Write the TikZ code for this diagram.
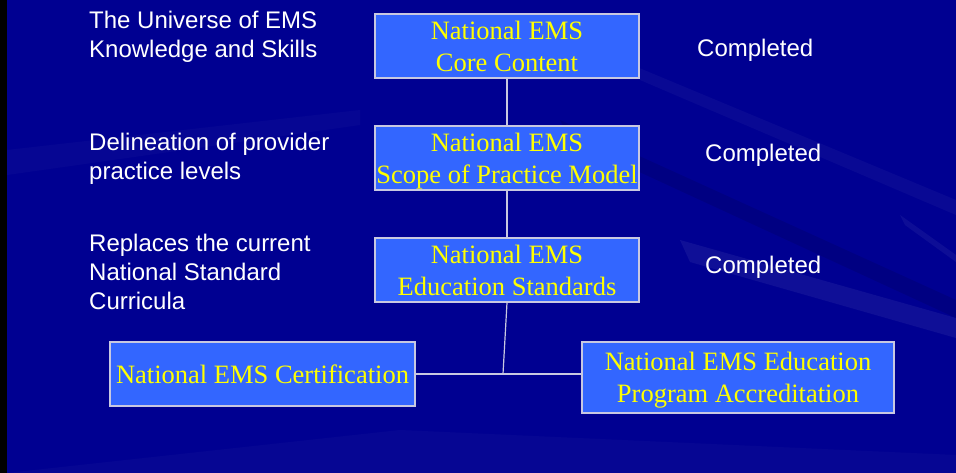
\documentclass[tikz,border=0pt]{standalone}
\usepackage{fontspec}
\setmainfont{Liberation Serif}
\newfontfamily\arial{Liberation Sans}
\usetikzlibrary{calc}

\definecolor{navy}{RGB}{0,0,145}
\definecolor{boxblue}{RGB}{51,102,255}
\definecolor{boxtext}{RGB}{255,255,0}
\definecolor{linegray}{RGB}{200,200,225}

\tikzset{
	box/.style={draw=linegray, line width=1.3pt, fill=boxblue, text=boxtext, align=center,
		inner sep=0pt, text depth=0pt, font=\fontsize{26.5}{32}\selectfont},
	note/.style={text=white, align=left, anchor=west, inner sep=0pt,
		font=\arial\fontsize{24}{29}\selectfont},
	link/.style={draw=linegray, line width=1.2pt}
}

\begin{document}
\begin{tikzpicture}[x=1pt,y=-1pt]
	\useasboundingbox (0,0) rectangle (956,473);
	\fill[navy] (0,0) rectangle (956,473);
	\fill[black] (0,0) rectangle (7,473);
	% light streaks in the background
	\fill[white,opacity=0.06] (680,240) -- (956,318) -- (956,338) -- (690,262) -- cycle;
	\fill[white,opacity=0.035] (620,60) -- (956,200) -- (956,215) -- (640,80) -- cycle;
	\fill[white,opacity=0.05] (900,215) -- (956,255) -- (956,262) -- (905,225) -- cycle;
	\fill[black,opacity=0.1] (560,120) -- (956,300) -- (956,318) -- (570,140) -- cycle;
	\fill[white,opacity=0.025] (7,473) -- (400,430) -- (956,455) -- (956,473) -- cycle;
	\fill[white,opacity=0.025] (7,150) -- (360,110) -- (360,125) -- (7,175) -- cycle;

	% the boxes
	\node[box, minimum width=264, minimum height=64] (core) at (507,46) {National EMS\\Core Content};
	\node[box, minimum width=264, minimum height=64] (scope) at (507,158) {National EMS\\Scope of Practice Model};
	\node[box, minimum width=264, minimum height=64] (edstd) at (507,270) {National EMS\\Education Standards};
	\node[box, minimum width=305, minimum height=64] (cert) at (262.5,374) {National EMS Certification};
	\node[box, minimum width=312, minimum height=71] (accred) at (738,377.5) {National EMS Education\\Program Accreditation};

	% left side notes
	\node[note] (universe) at (89,37) {The Universe of EMS\\Knowledge and Skills};
	\node[note] (levels) at (89,159) {Delineation of provider\\practice levels};
	\node[note] (replaces) at (89,272) {Replaces the current\\National Standard\\Curricula};

	% status on the right
	\node[note] (done1) at (697,50) {Completed};
	\node[note] (done2) at (705,155) {Completed};
	\node[note] (done3) at (705,267) {Completed};

	% connectors
	\coordinate (join) at (503,374);
	\draw[link] (core) -- (scope);
	\draw[link] (scope) -- (edstd);
	\draw[link] (edstd.south) -- (join);
	\draw[link] (cert.east) -- (accred.west |- cert.east);
\end{tikzpicture}
\end{document}
